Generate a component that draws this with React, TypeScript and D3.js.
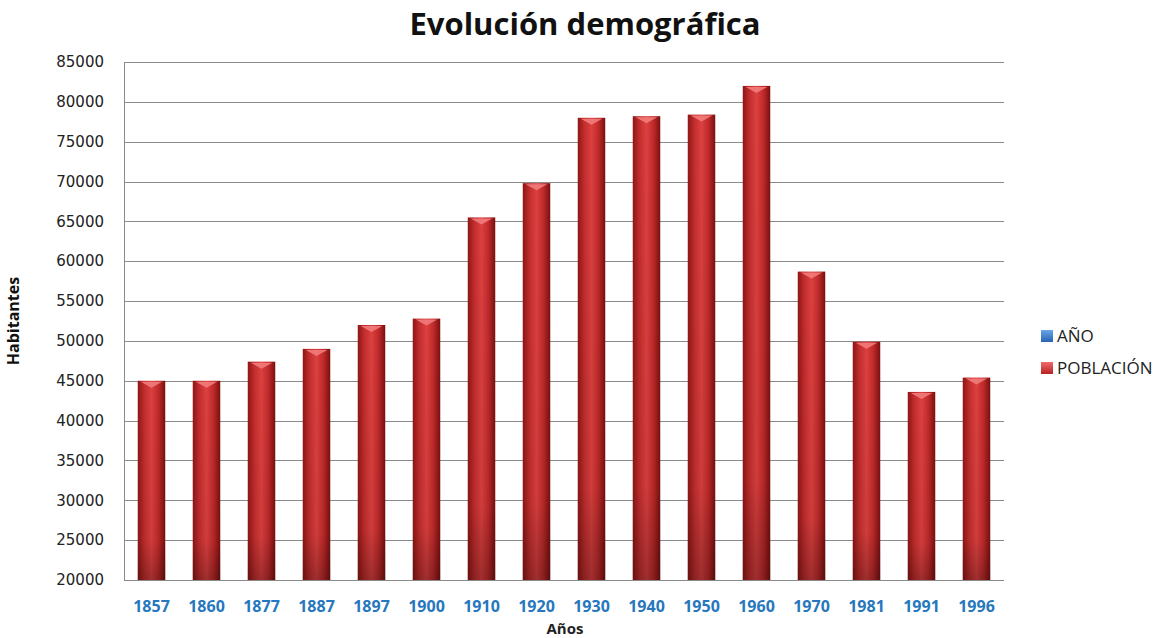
import React from "react";
import * as d3 from "d3";

const years = ["1857", "1860", "1877", "1887", "1897", "1900", "1910", "1920", "1930", "1940", "1950", "1960", "1970", "1981", "1991", "1996"];
const poblacion = [45000, 45000, 47400, 49000, 52000, 52800, 65500, 69800, 78000, 78200, 78400, 82000, 58700, 49900, 43600, 45400];
const yTicks = [20000, 25000, 30000, 35000, 40000, 45000, 50000, 55000, 60000, 65000, 70000, 75000, 80000, 85000];
const legendItems = ["AÑO", "POBLACIÓN"];

const W = 1176;
const H = 638;
const margin = { top: 62, right: 172, bottom: 58, left: 124 };

const App = () => {
  const width = W - margin.left - margin.right;
  const height = H - margin.top - margin.bottom;

  const x = d3.scaleBand().domain(years).range([0, width]).paddingInner(0.5).paddingOuter(0.25);
  const y = d3.scaleLinear().domain([20000, 85000]).range([height, 0]);

  const font = "'DejaVu Sans', Verdana, sans-serif";
  const sans = "'Open Sans', 'DejaVu Sans', sans-serif";

  return (
    <svg width={W} height={H} style={{ display: "block", position: "absolute", left: 0, top: 0, background: "#fff" }}>
      <defs>
        <linearGradient id="barGrad" x1="0" x2="1" y1="0" y2="0">
          <stop offset="0%" stopColor="#8e1616" />
          <stop offset="25%" stopColor="#c42e2e" />
          <stop offset="50%" stopColor="#dc4040" />
          <stop offset="75%" stopColor="#c02a2a" />
          <stop offset="100%" stopColor="#7a1010" />
        </linearGradient>
        <linearGradient id="shade" x1="0" x2="0" y1="0" y2="1">
          <stop offset="0%" stopColor="#000" stopOpacity="0" />
          <stop offset="80%" stopColor="#000" stopOpacity="0.06" />
          <stop offset="100%" stopColor="#000" stopOpacity="0.28" />
        </linearGradient>
        <linearGradient id="legRed" x1="0" x2="0" y1="0" y2="1">
          <stop offset="0%" stopColor="#f06a6a" />
          <stop offset="100%" stopColor="#b82222" />
        </linearGradient>
        <linearGradient id="legBlue" x1="0" x2="0" y1="0" y2="1">
          <stop offset="0%" stopColor="#6aa6e8" />
          <stop offset="100%" stopColor="#2a62b0" />
        </linearGradient>
      </defs>

      <text x={585} y={35} textAnchor="middle" fontFamily={sans} fontWeight="bold" fontSize={31} fill="#111">
        Evolución demográfica
      </text>

      <g transform={`translate(${margin.left},${margin.top})`}>
        {yTicks.map((t) => (
          <g key={t}>
            <line x1={0} x2={width} y1={Math.round(y(t)) + 0.5} y2={Math.round(y(t)) + 0.5} stroke="#8a8a8a" strokeWidth={1} />
            <text x={-20} y={y(t)} dy="0.35em" textAnchor="end" fontFamily={font} fontSize={15} fill="#222">
              {t}
            </text>
          </g>
        ))}
        <line x1={0.5} x2={0.5} y1={0} y2={height} stroke="#8a8a8a" />

        {years.map((yr, i) => {
          const bx = x(yr) as number;
          const bw = x.bandwidth();
          const top = y(poblacion[i]);
          const cap = 7;
          return (
            <g key={yr}>
              <rect x={bx} y={top} width={bw} height={height - top} fill="url(#barGrad)" />
              <rect x={bx} y={top} width={bw} height={height - top} fill="url(#shade)" />
              <polygon
                points={`${bx + 3},${top + 1} ${bx + bw - 3},${top + 1} ${bx + bw / 2},${top + cap}`}
                fill="#f27c7c"
                opacity={0.9}
              />
              <text x={bx + bw / 2} y={height + 32} textAnchor="middle" fontFamily={sans} fontWeight="bold" fontSize={16} fill="#2677bd">
                {yr}
              </text>
            </g>
          );
        })}

        <text
          transform={`translate(${-105},${height / 2}) rotate(-90)`}
          textAnchor="middle"
          fontFamily={sans}
          fontWeight="bold"
          fontSize={16}
          fill="#111"
        >
          Habitantes
        </text>
        <text x={width / 2 + 1} y={height + 54} textAnchor="middle" fontFamily={sans} fontWeight="bold" fontSize={15} fill="#222">
          Años
        </text>
      </g>

      <g transform="translate(1041,330)">
        {legendItems.map((d, i) => (
          <g key={d} transform={`translate(0,${i * 32})`}>
            <rect x={0} y={0} width={12} height={12} fill={i === 0 ? "url(#legBlue)" : "url(#legRed)"} />
            <text x={16} y={6} dy="0.38em" fontFamily={sans} fontSize={17} fill="#222">
              {d}
            </text>
          </g>
        ))}
      </g>
    </svg>
  );
};

export default App;
